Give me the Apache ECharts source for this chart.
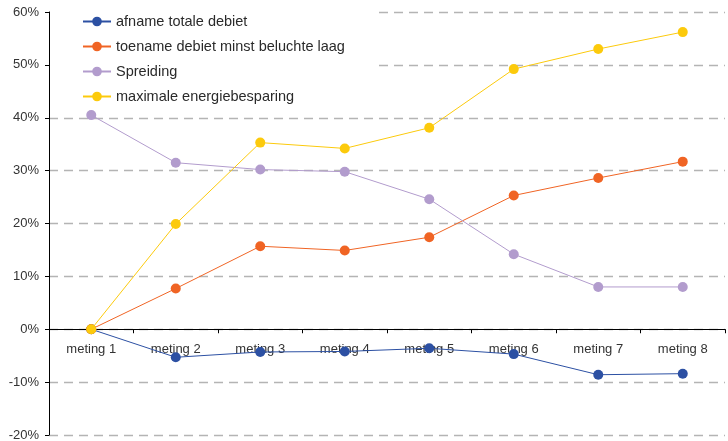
<!DOCTYPE html>
<html><head><meta charset="utf-8">
<script src="https://cdn.jsdelivr.net/npm/echarts@6/dist/echarts.min.js"></script>
<style>html,body{margin:0;padding:0;background:#fff}#c{width:728px;height:441px}</style>
</head><body><div id="c"></div>
<script>
const categories = ['meting 1','meting 2','meting 3','meting 4','meting 5','meting 6','meting 7','meting 8'];
const afnameTotaleDebiet = [0, -5.3, -4.3, -4.2, -3.6, -4.7, -8.6, -8.4];
const toenameDebiet = [0, 7.7, 15.7, 14.9, 17.4, 25.3, 28.6, 31.7];
const spreiding = [40.5, 31.5, 30.2, 29.8, 24.6, 14.2, 8.0, 8.0];
const maxEnergiebesparing = [0, 19.9, 35.3, 34.2, 38.1, 49.2, 53.0, 56.2];
const seriesNames = ['afname totale debiet','toename debiet minst beluchte laag','Spreiding','maximale energiebesparing'];
const colors = ['#2c50a3','#f06424','#b29ccd','#fcca0c'];
const values = [afnameTotaleDebiet, toenameDebiet, spreiding, maxEnergiebesparing];

const H = 441, TOP = 12, BOTTOM = 6, YMIN = -20, YMAX = 60;
const plotH = H - TOP - BOTTOM;
const zeroOffset = -plotH * (0 - YMIN) / (YMAX - YMIN);

const chart = echarts.init(document.getElementById('c'));
chart.setOption({
  animation: false,
  textStyle: {fontFamily: 'Liberation Sans, Arial, sans-serif'},
  grid: {left: 49, right: 3, top: TOP, bottom: BOTTOM, containLabel: false, outerBoundsMode: 'none'},
  legend: {
    orient: 'vertical', left: 50, top: 9,
    padding: [5, 30, 5, 32],
    backgroundColor: '#fff',
    itemGap: 10, itemWidth: 28, itemHeight: 12,
    textStyle: {fontSize: 14.5, color: '#2a2a2a'},
    data: seriesNames
  },
  xAxis: {
    type: 'category', data: categories, position: 'bottom', offset: zeroOffset,
    axisLine: {onZero: false, lineStyle: {color: '#000', width: 1}},
    axisTick: {show: true, length: 4, inside: false, lineStyle: {color: '#000'}},
    axisLabel: {color: '#333', fontSize: 13, margin: 14},
    splitLine: {show: false}
  },
  yAxis: {
    type: 'value', min: YMIN, max: YMAX, interval: 10,
    axisLine: {show: true, lineStyle: {color: '#000'}},
    axisTick: {show: true, length: 4, lineStyle: {color: '#000'}},
    axisLabel: {color: '#333', fontSize: 13, margin: 10, formatter: v => v + '%'},
    splitLine: {show: true, lineStyle: {color: '#b4b4b4', type: [9, 6], width: 1.3}}
  },
  series: values.map((d, i) => ({
    name: seriesNames[i], type: 'line', data: d,
    symbol: 'circle', symbolSize: 10,
    lineStyle: {width: 1, color: colors[i]},
    itemStyle: {color: colors[i]},
    z: 2 + i
  }))
});
</script></body></html>
